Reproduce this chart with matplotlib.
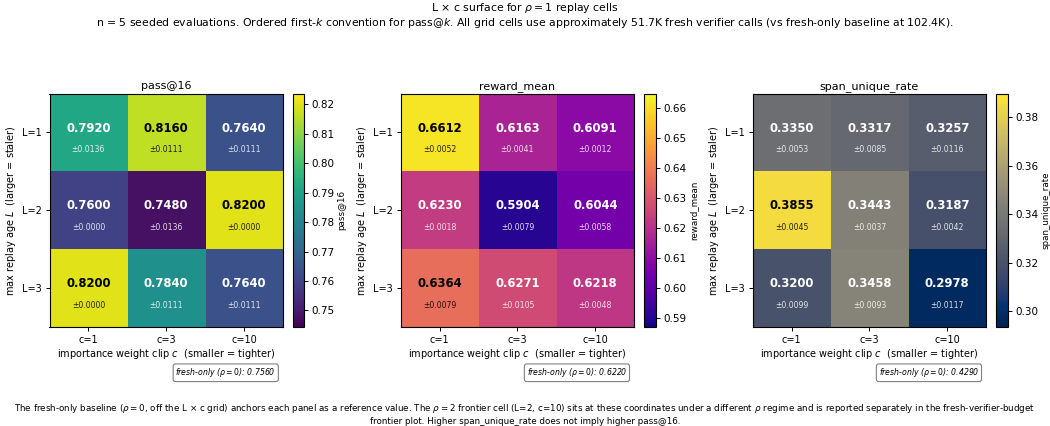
import numpy as np
import matplotlib
matplotlib.use("Agg")
import matplotlib.pyplot as plt
from matplotlib.colors import Normalize

L_labels = ["L=1", "L=2", "L=3"]
c_labels = ["c=1", "c=3", "c=10"]

metric_names = ["pass@16", "reward_mean", "span_unique_rate"]
cmaps = ["viridis", "plasma", "cividis"]

pass16_mean = [[0.7920, 0.8160, 0.7640],
               [0.7600, 0.7480, 0.8200],
               [0.8200, 0.7840, 0.7640]]
pass16_std = [[0.0136, 0.0111, 0.0111],
              [0.0000, 0.0136, 0.0000],
              [0.0000, 0.0111, 0.0111]]
reward_mean = [[0.6612, 0.6163, 0.6091],
               [0.6230, 0.5904, 0.6044],
               [0.6364, 0.6271, 0.6218]]
reward_std = [[0.0052, 0.0041, 0.0012],
              [0.0018, 0.0079, 0.0058],
              [0.0079, 0.0105, 0.0048]]
span_mean = [[0.3350, 0.3317, 0.3257],
             [0.3855, 0.3443, 0.3187],
             [0.3200, 0.3458, 0.2978]]
span_std = [[0.0053, 0.0085, 0.0116],
            [0.0045, 0.0037, 0.0042],
            [0.0099, 0.0093, 0.0117]]
baselines = [0.7560, 0.6220, 0.4290]

means = [pass16_mean, reward_mean, span_mean]
stds = [pass16_std, reward_std, span_std]

W, H = 1050, 426
fig = plt.figure(figsize=(W / 100, H / 100), dpi=100)

ax_left = [49.5, 400.7, 752.7]
cb_left = [292.7, 644.3, 996.0]
ax_top, ax_size = 93.5, 233.5
cb_w = 11.5

for i in range(3):
    data = np.array(means[i])
    err = np.array(stds[i])
    ax = fig.add_axes([ax_left[i] / W, (H - ax_top - ax_size) / H, ax_size / W, ax_size / H])
    cax = fig.add_axes([cb_left[i] / W, (H - ax_top - ax_size) / H, cb_w / W, ax_size / H])
    rng = data.max() - data.min()
    vmin = data.min() - 0.05 * rng
    vmax = data.max() + 0.05 * rng
    norm = Normalize(vmin=vmin, vmax=vmax)
    im = ax.imshow(data, cmap=cmaps[i], norm=norm, aspect="auto")
    ax.set_xticks(range(3))
    ax.set_xticklabels(c_labels, fontsize=7)
    ax.set_yticks(range(3))
    ax.set_yticklabels(L_labels, fontsize=7)
    ax.tick_params(length=3, width=0.7, pad=2.5)
    ax.set_xlabel("importance weight clip $c$  (smaller = tighter)", fontsize=7, labelpad=2)
    ax.set_ylabel("max replay age $L$  (larger = staler)", fontsize=7, labelpad=3)
    ax.set_title(metric_names[i], fontsize=8, pad=3)
    for r in range(3):
        for c in range(3):
            v = data[r, c]
            col = "black" if norm(v) > 0.62 else "white"
            ax.text(c, r - 0.055, f"{v:.4f}", ha="center", va="center",
                    fontsize=8.4, fontweight="bold", color=col)
            ax.text(c, r + 0.22, f"±{err[r, c]:.4f}", ha="center", va="center",
                    fontsize=5.6, color=col, alpha=0.85)
    cb = fig.colorbar(im, cax=cax)
    cb.ax.tick_params(labelsize=7.5, length=3, width=0.7, pad=2.5)
    cb.set_label(metric_names[i], fontsize=6.3, labelpad=2)
    ax.text(0.97, -0.196, f"fresh-only ($\\rho = 0$): {baselines[i]:.4f}",
            transform=ax.transAxes, ha="right", va="center", fontsize=5.6,
            style="italic",
            bbox=dict(boxstyle="round,pad=0.3", facecolor="white",
                      edgecolor="gray", linewidth=0.8))

fig.text(0.5, 1 - 8 / H, "L × c surface for $\\rho = 1$ replay cells",
         ha="center", va="center", fontsize=7.8)
fig.text(0.5, 1 - 22.5 / H,
         "n = 5 seeded evaluations. Ordered first-$k$ convention for pass@$k$. "
         "All grid cells use approximately 51.7K fresh verifier calls (vs fresh-only baseline at 102.4K).",
         ha="center", va="center", fontsize=7.8)
fig.text(0.5, 1 - 414 / H,
         "The fresh-only baseline ($\\rho = 0$, off the L × c grid) anchors each panel as a reference value. "
         "The $\\rho = 2$ frontier cell (L=2, c=10) sits at these coordinates under a different $\\rho$ regime "
         "and is reported separately in the fresh-verifier-budget\nfrontier plot. "
         "Higher span_unique_rate does not imply higher pass@16.",
         ha="center", va="center", fontsize=6.35, linespacing=1.4)

fig.savefig("out.png", dpi=100)
